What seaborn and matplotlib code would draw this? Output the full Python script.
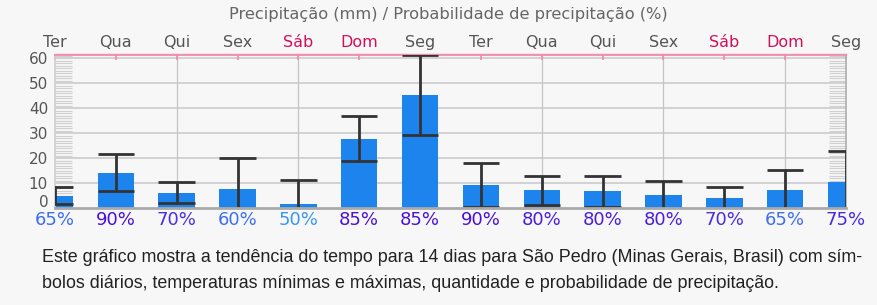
import numpy as np
import pandas as pd
import matplotlib
matplotlib.use("Agg")
import matplotlib.pyplot as plt
import seaborn as sns
from matplotlib.ticker import MultipleLocator

# ---- data ----
days = ["Ter", "Qua", "Qui", "Sex", "Sáb", "Dom", "Seg",
        "Ter", "Qua", "Qui", "Sex", "Sáb", "Dom", "Seg"]
precip = [4.9, 14.0, 6.1, 7.5, 1.5, 27.6, 45.2, 9.2, 7.2, 6.7, 5.2, 4.1, 7.1, 10.4]
precip_low = [1.6, 6.7, 1.9, 0.0, 0.0, 18.9, 29.2, 0.5, 1.2, 0.3, 0.0, 0.0, 0.0, 0.0]
precip_high = [8.3, 21.6, 10.5, 19.9, 11.1, 36.8, 61.5, 18.1, 12.9, 12.8, 10.8, 8.5, 15.2, 22.9]
prob = ["65%", "90%", "70%", "60%", "50%", "85%", "85%",
        "90%", "80%", "80%", "80%", "70%", "65%", "75%"]
prob_colors = {"50%": "#3a95f5", "60%": "#3d70f0", "65%": "#3d6ef0",
               "70%": "#4a2ee0", "75%": "#4a2ae0", "80%": "#4a1edc",
               "85%": "#4a10d8", "90%": "#4a10d8"}
weekend = {"Sáb", "Dom"}
y_ticks = [10, 20, 30, 40, 50, 60]

df = pd.DataFrame({"pos": np.arange(len(days)), "precip": precip})

sns.set_theme(style="white")
plt.rcParams["font.family"] = ["DejaVu Sans"]

BG = "#f7f7f7"
fig = plt.figure(figsize=(8.77, 3.05), dpi=100, facecolor=BG)
ax = fig.add_axes([55 / 877, 97 / 305, (846 - 55) / 877, (208 - 54.5) / 305])
ax.set_facecolor(BG)

# grid
for yv in y_ticks:
    ax.axhline(yv, color="#cfcfcf", lw=1.3, zorder=0)
for xv in range(2, 13, 2):
    ax.axvline(xv, color="#c4c4c4", lw=0.9, zorder=0)

sns.barplot(data=df, x="pos", y="precip", native_scale=True, width=0.6,
            color="#1c84ec", saturation=1, ax=ax, zorder=2, edgecolor="none")

x = df["pos"].to_numpy()
ax.vlines(x, precip_low, precip_high, color="#333333", lw=2.0, zorder=3)
ax.hlines(precip_high, x - 0.3, x + 0.3, color="#333333", lw=2.0, zorder=3)
lows = np.array(precip_low)
m = lows > 0
ax.hlines(lows[m], x[m] - 0.3, x[m] + 0.3, color="#333333", lw=2.0, zorder=3)

ax.set_xlim(0, 13)
ax.set_ylim(0, 61.5)
ax.set_xlabel("")
ax.set_ylabel("")

# y ticks
ax.set_yticks(y_ticks)
ax.yaxis.set_minor_locator(MultipleLocator(1))
ax.tick_params(axis="y", which="major", length=0, labelsize=11,
               labelcolor="#555555", pad=5)
ax.tick_params(axis="y", which="minor", direction="in", length=12,
               color="#d0d0d0", width=0.8, left=True, right=True)
ax.text(-6 / 791, -0.7, "0", ha="right", va="bottom", fontsize=11, color="#555555",
        transform=ax.get_yaxis_transform(), clip_on=False)

# bottom percentages
ax.set_xticks(x)
ax.set_xticklabels(prob)
ax.tick_params(axis="x", which="major", length=0, labelsize=13, pad=2)
for lbl, p in zip(ax.get_xticklabels(), prob):
    lbl.set_color(prob_colors[p])

# top day labels
top = ax.secondary_xaxis("top")
top.set_xticks(x)
top.set_xticklabels(days)
top.tick_params(axis="x", direction="in", length=4, color="#f08cb0",
                labelsize=11.5, pad=3)
for lbl, d in zip(top.get_xticklabels(), days):
    lbl.set_color("#d0105a" if d in weekend else "#555555")
top.spines["top"].set_color("#f08cb0")
top.spines["top"].set_linewidth(1.0)

ax.spines["top"].set_color("#f08cb0")
ax.spines["left"].set_color("#d0d0d0")
ax.spines["right"].set_color("#b0b0b0")
ax.spines["bottom"].set_color("#aaaaaa")
ax.spines["bottom"].set_linewidth(2.0)
ax.spines["bottom"].set_zorder(4)

fig.text(448 / 877, 1 - 14 / 305, "Precipitação (mm) / Probabilidade de precipitação (%)",
         ha="center", va="center", fontsize=11.7, color="#666666")

fig.text(42 / 877, 1 - 257 / 305,
         "Este gráfico mostra a tendência do tempo para 14 dias para São Pedro (Minas Gerais, Brasil) com sím-",
         ha="left", va="center", fontsize=12.9, color="#222222", family="Liberation Sans")
fig.text(42 / 877, 1 - 283 / 305,
         "bolos diários, temperaturas mínimas e máximas, quantidade e probabilidade de precipitação.",
         ha="left", va="center", fontsize=12.9, color="#222222", family="Liberation Sans")

fig.savefig("out.png", dpi=100, facecolor=BG)
